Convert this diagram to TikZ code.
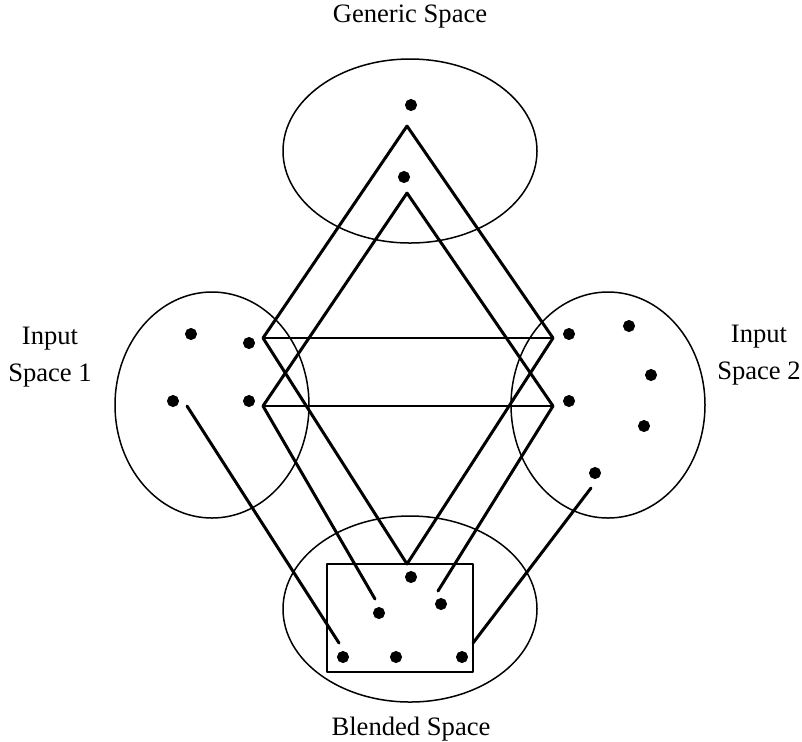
\documentclass[tikz,border=0pt]{standalone}
\usepackage{fontspec}
\setmainfont{Liberation Serif}
\usepackage{tkz-euclide}
\usetikzlibrary{calc}
\tikzset{spacelbl/.style={font=\fontsize{13.3}{18.5}\selectfont,align=center,inner sep=0pt}}

\begin{document}
\begin{tikzpicture}[x=0.5pt,y=-0.5pt]
\useasboundingbox (0,0) rectangle (802,741);
\tkzSetUpLine[line width=1.5pt,color=black]
\tkzSetUpPoint[fill=black,size=5.6]

% centres of the four spaces
\tkzDefPoints{410/151/G,212/405/I,608/405/J,410/609/H}
% corners of the two diamonds
\tkzDefPoints{407/126/T,407/193/U,263/338/L,263/406/M,553/338/R,553/406/S,407/564/B}
% free ends of the short links
\tkzDefPoints{375/599/E1,438/591/E2,339/643/E3,473/643/E4,187/406/F1,591/488/F2}
% box in the blend
\tkzDefPoints{327/564/K1,473/564/K2,473/672/K3,327/672/K4}
% elements
\tkzDefPoints{411/105/g1,404/177/g2}
\tkzDefPoints{191/334/a1,249/343/a2,173/401/a3,249/401/a4}
\tkzDefPoints{569/334/b1,629/326/b2,651/375/b3,644/426/b4,595/473/b5,569/401/b6}
\tkzDefPoints{411/577/c1,379/613/c2,441/604/c3,343/657/c4,396/657/c5,462/657/c6}

\draw[line width=0.75pt] (G) ellipse [x radius=127,y radius=92];
\draw[line width=0.75pt] (I) ellipse [x radius=97,y radius=113];
\draw[line width=0.75pt] (J) ellipse [x radius=97,y radius=113];
\draw[line width=0.75pt] (H) ellipse [x radius=127,y radius=93];

\tkzDrawPolygon[line width=1pt](K1,K2,K3,K4)

\tkzDrawSegments[line width=0.9pt](L,R M,S)
\tkzDrawSegments(T,L T,R U,M U,S L,B R,B M,E1 S,E2)
\tkzDrawSegments(F1,E3 F2,E4)

\tkzDrawPoints(g1,g2,a1,a2,a3,a4,b1,b2,b3,b4,b5,b6,c1,c2,c3,c4,c5,c6)

\node[spacelbl] (gen) at (410,17) {Generic Space};
\node[spacelbl] (in1) at (50,357) {Input\\Space 1};
\node[spacelbl] (in2) at (759,355) {Input\\Space 2};
\node[spacelbl] (bld) at (411,729) {Blended Space};

\end{tikzpicture}
\end{document}
